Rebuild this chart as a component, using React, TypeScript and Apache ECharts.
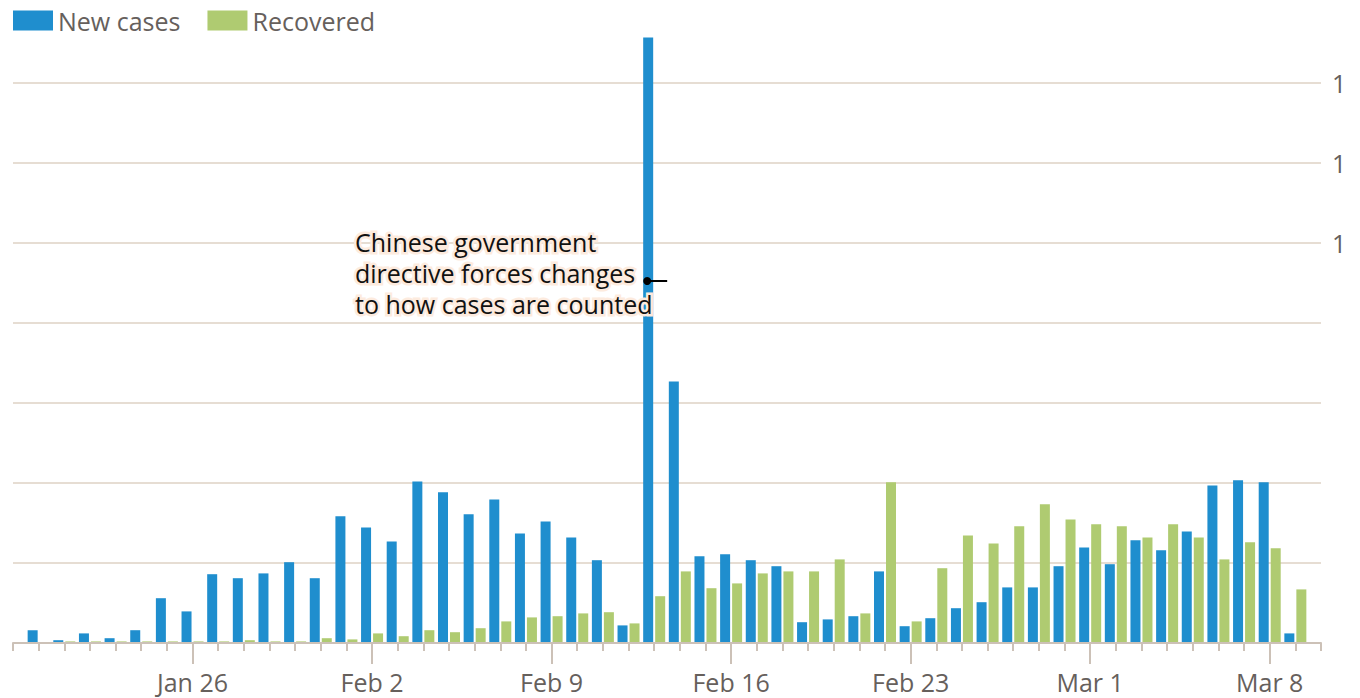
import React, { useEffect, useRef } from 'react';
import * as echarts from 'echarts';

const categories = [
  'Jan 19', 'Jan 20', 'Jan 21', 'Jan 22', 'Jan 23', 'Jan 24', 'Jan 25', 'Jan 26', 'Jan 27', 'Jan 28', 'Jan 29', 'Jan 30', 'Jan 31',
  'Feb 1', 'Feb 2', 'Feb 3', 'Feb 4', 'Feb 5', 'Feb 6', 'Feb 7', 'Feb 8', 'Feb 9', 'Feb 10', 'Feb 11', 'Feb 12', 'Feb 13', 'Feb 14',
  'Feb 15', 'Feb 16', 'Feb 17', 'Feb 18', 'Feb 19', 'Feb 20', 'Feb 21', 'Feb 22', 'Feb 23', 'Feb 24', 'Feb 25', 'Feb 26', 'Feb 27',
  'Feb 28', 'Feb 29', 'Mar 1', 'Mar 2', 'Mar 3', 'Mar 4', 'Mar 5', 'Mar 6', 'Mar 7', 'Mar 8', 'Mar 9', 'Mar 10',
];

const newCases = [
  null, 320, 70, 240, 120, 320, 1120, 790, 1720, 1620, 1740, 2020, 1620,
  3170, 2890, 2540, 4040, 3770, 3220, 3590, 2740, 3040, 2640, 2070, 440, 15140, 6540,
  2170, 2220, 2070, 1920, 520, 590, 670, 1790, 420, 620, 870, 1020, 1390,
  1390, 1920, 2390, 1970, 2570, 2320, 2790, 3940, 4070, 4020, 240, null,
];

const recovered = [
  null, 0, 40, 40, 40, 40, 40, 40, 40, 70, 40, 40, 120,
  90, 240, 170, 320, 270, 370, 540, 640, 670, 740, 770, 490, 1170, 1790,
  1370, 1490, 1740, 1790, 1790, 2090, 740, 4020, 540, 1870, 2690, 2490, 2920,
  3470, 3090, 2970, 2920, 2640, 2970, 2640, 2090, 2520, 2370, 1340, null,
];

const seriesNames = ['New cases', 'Recovered'];
const yLabeled = [10000, 12000, 14000];
const yLabelText = '1';

const annotationLines = ['Chinese government', 'directive forces changes', 'to how cases are counted'];
const annotationDate = 'Feb 13';
const annotationValue = 9050;

export default function App() {
  const ref = useRef<HTMLDivElement>(null);

  useEffect(() => {
    const chart = echarts.init(ref.current!, null, { renderer: 'svg' });
    const font = "'Open Sans', sans-serif";
    const gray = '#66605c';
    const axisColor = '#ccc1b7';
    const isMajor = (i: number) => i > 0 && i % 7 === 0;

    chart.setOption({
      animation: false,
      textStyle: { fontFamily: font },
      legend: {
        data: seriesNames,
        left: 13,
        top: 8,
        padding: 0,
        icon: 'rect',
        itemWidth: 40,
        itemHeight: 20,
        itemGap: 27,
        textStyle: { fontSize: 25, color: gray, fontFamily: font },
      },
      grid: { left: 13, right: 39, top: 3, bottom: 55, containLabel: false },
      xAxis: [
        {
          type: 'category',
          data: categories,
          boundaryGap: false,
          position: 'bottom',
          axisLine: { show: true, lineStyle: { color: axisColor, width: 2 } },
          axisTick: { show: true, interval: 0, length: 8, lineStyle: { color: axisColor, width: 2 } },
          axisLabel: { show: false },
          splitLine: { show: false },
          z: 5,
        },
        {
          type: 'category',
          data: categories,
          boundaryGap: false,
          position: 'bottom',
          axisLine: { show: false },
          axisTick: {
            show: true,
            interval: (i: number) => isMajor(i),
            length: 21,
            lineStyle: { color: axisColor, width: 2 },
          },
          axisLabel: {
            show: true,
            interval: (i: number) => isMajor(i),
            margin: 26,
            fontSize: 25,
            color: gray,
            fontFamily: font,
          },
          splitLine: { show: false },
        },
      ],
      yAxis: {
        type: 'value',
        position: 'right',
        min: 0,
        max: 16000,
        interval: 2000,
        axisLine: { show: false },
        axisTick: { show: false },
        axisLabel: {
          margin: 11,
          fontSize: 25,
          color: gray,
          fontFamily: font,
          showMaxLabel: false,
          formatter: (v: number) => (yLabeled.includes(v) ? yLabelText : ''),
        },
        splitLine: { show: true, showMaxLine: false, lineStyle: { color: '#e6ddd3', width: 2 } },
      },
      series: [
        {
          name: seriesNames[0],
          type: 'bar',
          xAxisIndex: 0,
          data: newCases,
          barWidth: 10,
          barGap: '20%',
          itemStyle: { color: '#1f8ece' },
        },
        {
          name: seriesNames[1],
          type: 'bar',
          xAxisIndex: 0,
          data: recovered,
          barWidth: 10,
          barGap: '20%',
          itemStyle: { color: '#afcb71' },
        },
      ],
    });

    const idx = categories.indexOf(annotationDate);
    const pt = chart.convertToPixel({ gridIndex: 0 } as any, [idx, annotationValue]) as number[];
    const dotX = pt[0] - 7;
    const dotY = pt[1];
    const text = annotationLines.join('\n');
    const textStyleBase = {
      text,
      fontSize: 25,
      fontFamily: font,
      lineHeight: 31,
      textAlign: 'left',
      textVerticalAlign: 'top',
    };
    chart.setOption({
      graphic: [
        {
          type: 'text',
          x: 355,
          y: 226,
          z: 100,
          silent: true,
          style: { ...textStyleBase, fill: '#fdebde', stroke: '#fdebde', lineWidth: 5 },
        },
        {
          type: 'text',
          x: 355,
          y: 226,
          z: 101,
          silent: true,
          style: { ...textStyleBase, fill: '#111111' },
        },
        {
          type: 'line',
          z: 102,
          silent: true,
          shape: { x1: dotX, y1: dotY, x2: dotX + 20, y2: dotY },
          style: { stroke: '#000000', lineWidth: 2 },
        },
        {
          type: 'circle',
          z: 103,
          silent: true,
          shape: { cx: dotX, cy: dotY, r: 4 },
          style: { fill: '#000000' },
        },
      ],
    });

    return () => chart.dispose();
  }, []);

  return (
    <div
      ref={ref}
      style={{ position: 'fixed', left: 0, top: 0, width: 1360, height: 698, background: '#ffffff' }}
    />
  );
}
